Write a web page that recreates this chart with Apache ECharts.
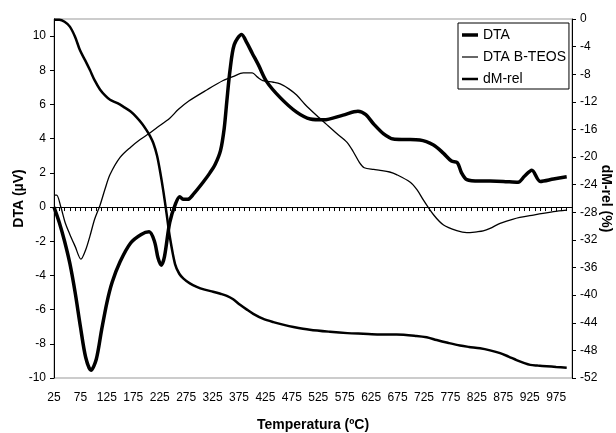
<!DOCTYPE html>
<html>
<head>
<meta charset="utf-8">
<script src="https://cdn.jsdelivr.net/npm/echarts@6/dist/echarts.min.js"></script>
<style>
html,body{margin:0;padding:0;background:#fff;}
#chart{width:616px;height:433px;}
</style>
</head>
<body>
<div id="chart"></div>
<script>
// DTA (thick)
var dtaTemp = [25,35,45,55,65,75,85,95,105,115,125,135,150,170,190,205,215,222,228,234,244,255,263,270,278,290,307,320,330,340,347,352,358,366,380,390,400,412,427,453,484,510,535,572,600,615,630,648,667,690,717,743,762,777,788,796,806,830,850,875,903,915,929,945,970,995];
var dtaVal  = [0.0,-0.9,-2.0,-3.3,-5.0,-7.0,-8.8,-9.55,-8.9,-7.2,-5.6,-4.4,-3.2,-2.1,-1.6,-1.45,-2.0,-3.0,-3.4,-2.9,-0.9,0.2,0.6,0.45,0.45,0.8,1.45,2.0,2.5,3.3,4.6,6.2,8.0,9.5,10.1,9.6,9.0,8.3,7.35,6.4,5.55,5.15,5.1,5.38,5.6,5.4,4.85,4.3,3.98,3.95,3.92,3.63,3.14,2.69,2.6,2.0,1.6,1.52,1.52,1.5,1.45,1.8,2.15,1.5,1.64,1.77];

// DTA B-TEOS (thin)
var tetaTemp = [25,30,38,46,55,65,76,85,93,102,112,122,131,150,170,188,205,220,244,260,280,314,345,365,383,400,410,420,440,453,470,484,500,522,540,560,579,591,603,612,630,642,660,673,699,712,724,743,762,787,806,825,837,850,869,894,932,970,995];
var tetaVal  = [0.7,0.7,0.0,-0.9,-1.6,-2.3,-3.05,-2.5,-1.7,-0.7,0.1,1.1,1.9,2.9,3.5,3.95,4.3,4.65,5.2,5.7,6.2,6.85,7.4,7.65,7.85,7.85,7.6,7.4,7.3,7.2,6.9,6.55,6.0,5.35,4.85,4.3,3.8,3.25,2.6,2.3,2.2,2.15,2.05,1.9,1.45,1.0,0.4,-0.45,-1.05,-1.38,-1.5,-1.45,-1.4,-1.25,-0.95,-0.7,-0.47,-0.27,-0.18];

// dM-rel (right axis)
var dmTemp = [25,35,45,55,65,74,84,93,102,112,122,131,145,156,170,181,192,200,207,213,220,226,232,238,244,254,262,270,282,295,310,326,340,352,364,377,390,402,420,440,460,478,509,547,580,610,640,673,711,730,749,770,793,810,831,850,869,885,900,915,926,940,957,975,995];
var dmVal  = [-0.1,-0.1,-0.4,-1.1,-2.6,-4.5,-6.0,-7.4,-8.9,-10.2,-11.1,-11.7,-12.2,-12.7,-13.4,-14.2,-15.2,-16.1,-17.0,-18.0,-19.8,-22.2,-25.0,-28.2,-31.5,-35.5,-36.9,-37.6,-38.3,-38.8,-39.2,-39.5,-39.8,-40.1,-40.6,-41.4,-42.1,-42.7,-43.4,-43.9,-44.3,-44.6,-45.0,-45.3,-45.5,-45.6,-45.7,-45.7,-45.9,-46.1,-46.5,-46.9,-47.3,-47.5,-47.7,-48.0,-48.4,-48.9,-49.4,-49.85,-50.1,-50.2,-50.3,-50.4,-50.5];

var seriesNames = ['DTA','DTA B-TEOS','dM-rel'];

function pairs(t, v){ return t.map(function(x,i){ return [x, v[i]]; }); }

var font = 'Liberation Sans, Arial, sans-serif';
var chart = echarts.init(document.getElementById('chart'));
chart.setOption({
  animation: false,
  backgroundColor: '#fff',
  grid: { left: 54, right: 44, top: 19, bottom: 55, show: true, borderColor: '#999', borderWidth: 1, backgroundColor: 'transparent', outerBoundsMode: 'none', containLabel: false },
  legend: {
    data: [
      { name: seriesNames[0], icon: 'path://M0,0H16V3.5H0Z' },
      { name: seriesNames[1], icon: 'path://M0,0H16V1.2H0Z' },
      { name: seriesNames[2], icon: 'path://M0,0H16V2.5H0Z' }
    ],
    orient: 'vertical',
    left: 458, top: 23,
    padding: [5, 3, 3, 4],
    itemWidth: 16, itemHeight: 14, itemGap: 8,
    backgroundColor: '#fff',
    borderColor: '#000', borderWidth: 1,
    textStyle: { fontFamily: font, fontSize: 14, color: '#000' }
  },
  xAxis: {
    type: 'value', min: 25, max: 1005, interval: 50,
    name: 'Temperatura (ºC)', nameLocation: 'middle', nameGap: 40, nameMoveOverlap: false,
    nameTextStyle: { fontFamily: font, fontSize: 14, fontWeight: 'bold', color: '#000' },
    axisLine: { lineStyle: { color: '#000', width: 1 } },
    axisTick: { show: true, length: 4, lineStyle: { color: '#000' } },
    minorTick: { show: true, splitNumber: 5, length: 4, lineStyle: { color: '#000' } },
    axisLabel: { fontFamily: font, fontSize: 12, color: '#000', margin: 14, showMaxLabel: false },
    splitLine: { show: false }
  },
  yAxis: [
    {
      type: 'value', min: -10, max: 11, interval: 2, position: 'left',
      name: 'DTA (µV)', nameLocation: 'middle', nameGap: 28, nameMoveOverlap: false,
      nameTextStyle: { fontFamily: font, fontSize: 14, fontWeight: 'bold', color: '#000' },
      axisLine: { show: true, lineStyle: { color: '#000', width: 1 } },
      axisTick: { show: true, length: 4, lineStyle: { color: '#000' } },
      axisLabel: { fontFamily: font, fontSize: 12, color: '#000', margin: 8, showMaxLabel: false },
      splitLine: { show: false }
    },
    {
      type: 'value', min: -52, max: 0, interval: 4, position: 'right',
      name: 'dM-rel (%)', nameLocation: 'middle', nameGap: 27, nameRotate: -90, nameMoveOverlap: false,
      nameTextStyle: { fontFamily: font, fontSize: 14, fontWeight: 'bold', color: '#000' },
      axisLine: { show: true, lineStyle: { color: '#000', width: 1 } },
      axisTick: { show: true, length: 4, lineStyle: { color: '#000' } },
      axisLabel: { fontFamily: font, fontSize: 12, color: '#000', margin: 8 },
      splitLine: { show: false }
    }
  ],
  series: [
    { name: seriesNames[0], type: 'line', yAxisIndex: 0, data: pairs(dtaTemp, dtaVal), symbol: 'none', smooth: 0.3, lineStyle: { color: '#000', width: 3.5 }, itemStyle: { color: '#000' }, z: 4 },
    { name: seriesNames[1], type: 'line', yAxisIndex: 0, data: pairs(tetaTemp, tetaVal), symbol: 'none', smooth: 0.3, lineStyle: { color: '#000', width: 1.3 }, itemStyle: { color: '#000' }, z: 3 },
    { name: seriesNames[2], type: 'line', yAxisIndex: 1, data: pairs(dmTemp, dmVal), symbol: 'none', smooth: 0.3, lineStyle: { color: '#000', width: 2.5 }, itemStyle: { color: '#000' }, z: 3 }
  ]
});
</script>
</body>
</html>
